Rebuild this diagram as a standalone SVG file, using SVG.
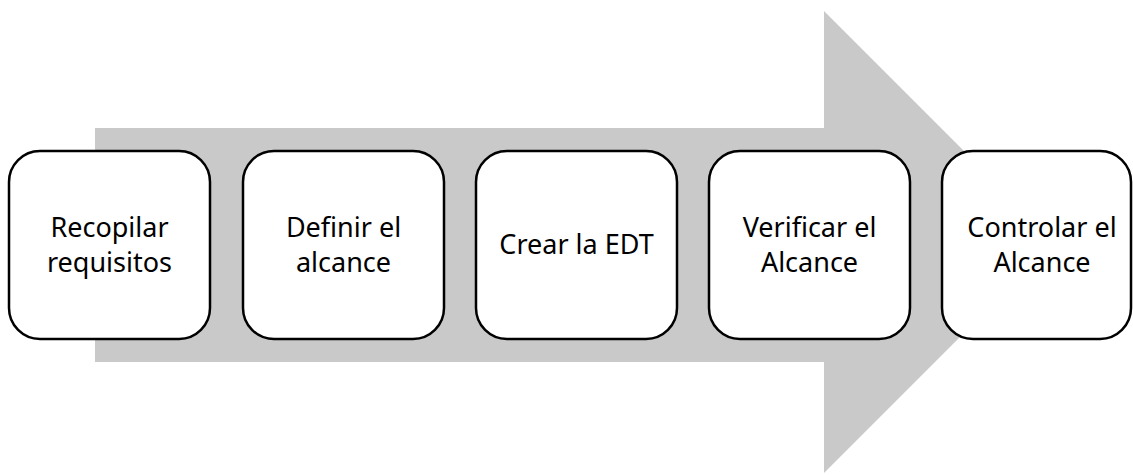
<svg xmlns="http://www.w3.org/2000/svg" width="1133" height="475" viewBox="0 0 1133 475">
<style>
.box{fill:#ffffff;stroke:#000000;stroke-width:2.5}
.lbl{font-family:"Noto Sans","Open Sans",sans-serif;font-size:27px;fill:#000000;text-anchor:middle}
</style>
<rect width="1133" height="475" fill="#ffffff"/>
<g id="arrow">
<polygon points="95,128 824,128 824,11 1055,242 824,473 824,362 95,362" fill="#c9c9c9"/>
</g>
<g id="connectors"></g>
<g id="n1"><rect class="box" x="9" y="151" width="201" height="188" rx="31"/>
<text class="lbl" x="109.5" y="237">Recopilar</text><text class="lbl" x="109.5" y="272">requisitos</text></g>
<g id="n2"><rect class="box" x="243" y="151" width="201" height="188" rx="31"/>
<text class="lbl" x="343.5" y="237">Definir el</text><text class="lbl" x="343.5" y="272">alcance</text></g>
<g id="n3"><rect class="box" x="476" y="151" width="201" height="188" rx="31"/>
<text class="lbl" x="576.5" y="254">Crear la EDT</text></g>
<g id="n4"><rect class="box" x="709" y="151" width="201" height="188" rx="31"/>
<text class="lbl" x="809.5" y="237">Verificar el</text><text class="lbl" x="809.5" y="272">Alcance</text></g>
<g id="n5"><rect class="box" x="942" y="151" width="189" height="188" rx="31"/>
<text class="lbl" x="1042" y="237">Controlar el</text><text class="lbl" x="1042" y="272">Alcance</text></g>
</svg>
